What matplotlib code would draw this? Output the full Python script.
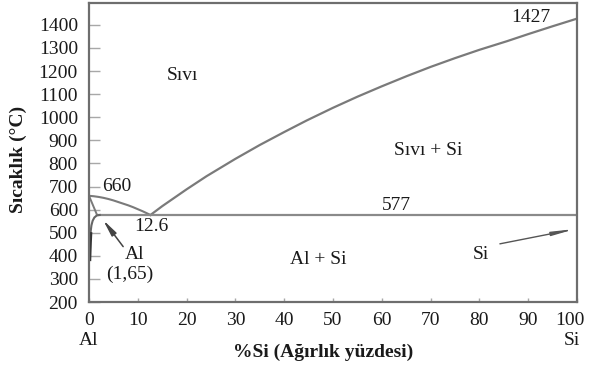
import matplotlib
matplotlib.use("Agg")
import matplotlib.pyplot as plt
import matplotlib.transforms as mtransforms

plt.rcParams['font.family'] = ['Liberation Serif', 'DejaVu Serif']
plt.rcParams['font.size'] = 14

# Al-Si faz diyagramı verileri (%Si ağırlık, °C)
liq_al_x = [0, 1, 2, 3, 4, 5, 6, 7, 8, 9, 10, 11, 12, 12.6]
liq_al_y = [660, 658, 655, 651, 646, 640, 633, 626, 619, 611, 602, 593, 583, 577]

liq_si_x = [12.6, 15, 20, 24.1, 30, 35, 40, 44.6, 50, 55, 60, 65.1, 70, 75, 80, 85.6, 90, 95, 100]
liq_si_y = [577, 615, 688, 745, 820, 880, 936, 986, 1041, 1089, 1134, 1178, 1218, 1256, 1292, 1329, 1360, 1394, 1427]

solidus_x = [0, 1.65]
solidus_y = [660, 577]

solvus_x = [2.2, 1.6, 1.1, 0.75, 0.5, 0.38, 0.3]
solvus_y = [577, 575, 566, 552, 532, 512, 495]
solvus_tail_x = [0.3, 0.22, 0.15, 0.1]
solvus_tail_y = [495, 460, 420, 385]

eutectic_x = [1.65, 100]
eutectic_temp = 577
eutectic_comp = 12.6
al_melt = 660
si_melt = 1427

x_ticks = [0, 10, 20, 30, 40, 50, 60, 70, 80, 90, 100]
y_ticks = [200, 300, 400, 500, 600, 700, 800, 900, 1000, 1100, 1200, 1300, 1400]

line_c = '#7a7a7a'
text_c = '#1a1a1a'

fig = plt.figure(figsize=(5.89, 3.67), dpi=100)
ax = fig.add_axes([0.1511, 0.177, 0.8285, 0.815])

ax.plot(liq_al_x, liq_al_y, color=line_c, lw=1.5)
ax.plot(liq_si_x, liq_si_y, color=line_c, lw=1.6)
ax.plot(solidus_x, solidus_y, color=line_c, lw=1.4)
ax.plot(eutectic_x, [eutectic_temp] * 2, color='#8a8a8a', lw=1.6)
ax.plot(solvus_x, solvus_y, color='#666666', lw=1.5)
ax.plot(solvus_tail_x, solvus_tail_y, color='#333333', lw=2.6)

ax.set_xlim(0, 100)
ax.set_ylim(200, 1495)
ax.set_xticks(x_ticks)
ax.set_yticks(y_ticks)

for s in ax.spines.values():
    s.set_color('#6e6e6e')
    s.set_linewidth(1.6)

ax.tick_params(axis='y', direction='in', length=8, width=1, color='#a8a8a8',
               labelcolor=text_c, pad=8)
ax.tick_params(axis='x', direction='in', length=3, width=1, color='#a8a8a8',
               labelcolor=text_c, pad=7)

# son etiketi (100) sağ kenardan biraz içeri al
last = ax.get_xticklabels()[-1]
last.set_transform(last.get_transform() +
                   mtransforms.ScaledTranslation(-5 / 72, 0, fig.dpi_scale_trans))

# bölge etiketleri
ax.text(19.1, 1182, 'Sıvı', ha='center', va='center', color=text_c)
ax.text(69.5, 858, 'Sıvı + Si', ha='center', va='center', color=text_c)
ax.text(47, 384, 'Al + Si', ha='center', va='center', color=text_c)

# karakteristik noktalar
ax.text(90.5, 1432, f'{si_melt}', ha='center', va='center', color=text_c)
ax.text(63, 619, f'{eutectic_temp}', ha='center', va='center', color=text_c)
ax.text(5.7, 700, f'{al_melt}', ha='center', va='center', color=text_c)
ax.text(12.7, 525, f'{eutectic_comp}', ha='center', va='center', color=text_c)

ax.text(9.4, 405, 'Al', ha='center', va='center', color=text_c)
ax.text(8.4, 322, '(1,65)', ha='center', va='center', color=text_c)
ax.annotate('', xy=(2.9, 555), xytext=(7.0, 440),
            arrowprops=dict(arrowstyle='-|>,head_length=0.7,head_width=0.12',
                            color='#444444', lw=1.1, shrinkA=0, shrinkB=0))

ax.text(80.3, 405, 'Si', ha='center', va='center', color=text_c)
ax.annotate('', xy=(99.6, 516), xytext=(84.2, 452),
            arrowprops=dict(arrowstyle='-|>,head_length=0.9,head_width=0.08',
                            color='#555555', lw=1.0, shrinkA=0, shrinkB=0))

# eksen uçlarındaki bileşen adları
trans = mtransforms.blended_transform_factory(ax.transData, ax.transAxes)
ax.text(0, -0.128, 'Al', transform=trans, ha='center', va='center', color=text_c)
ax.text(99, -0.128, 'Si', transform=trans, ha='center', va='center', color=text_c)

fig.text(0.548, 0.041, '%Si (Ağırlık yüzdesi)', ha='center', va='center',
         fontweight='bold', color=text_c)
fig.text(0.031, 0.565, 'Sıcaklık (°C)', ha='center', va='center',
         rotation=90, fontweight='bold', color=text_c)

fig.savefig('out.png', dpi=100)
